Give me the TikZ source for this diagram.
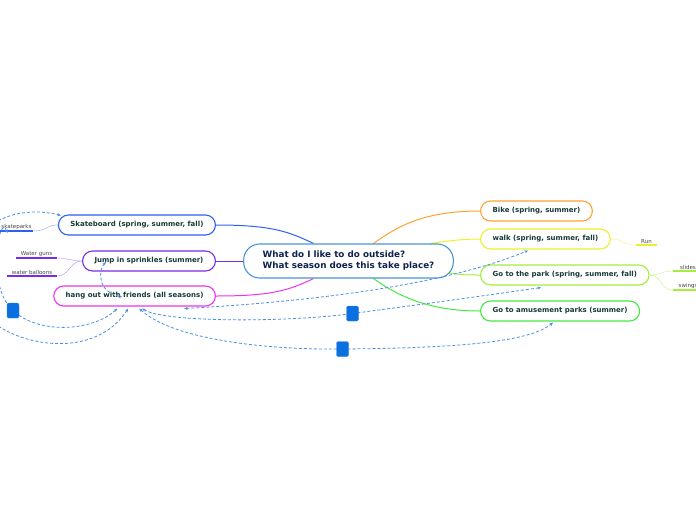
\documentclass[tikz,border=0pt]{standalone}
\usepackage{fontspec}
\setmainfont{DejaVu Sans}
\usetikzlibrary{arrows.meta,calc}
\pgfdeclarelayer{bg}
\pgfdeclarelayer{top}
\pgfsetlayers{bg,main,top}
\definecolor{skatec}{HTML}{2F5FF5}
\definecolor{skatel}{HTML}{8C9EF8}
\definecolor{jumpc}{HTML}{7A2BEA}
\definecolor{jumpl}{HTML}{B48CF2}
\definecolor{hangc}{HTML}{EE33EE}
\definecolor{bikec}{HTML}{FFA233}
\definecolor{walkc}{HTML}{EEEE30}
\definecolor{walkl}{HTML}{F2F27A}
\definecolor{parkc}{HTML}{A4EE3C}
\definecolor{parkl}{HTML}{C2F28A}
\definecolor{amusec}{HTML}{44E844}
\definecolor{centrec}{HTML}{4A94D6}
\definecolor{relblue}{HTML}{4A90E2}
\definecolor{relboxc}{HTML}{0A70E0}
\definecolor{topictext}{HTML}{173A38}
\definecolor{centretext}{HTML}{0F2250}
\definecolor{leaftext}{HTML}{444444}
\tikzset{
  topic/.style={draw, fill=white, rounded corners=10pt, line width=1.1pt,
    minimum height=20pt, inner xsep=12pt, inner ysep=0pt, text=topictext,
    font=\bfseries\fontsize{7}{8.5}\selectfont},
  leaf/.style={inner xsep=0pt, inner ysep=1.5pt, anchor=south, text=leaftext,
    font=\fontsize{5.5}{6}\selectfont},
  branch/.style={line width=1pt},
  rel/.style={draw=relblue, line width=0.8pt, dash pattern=on 3pt off 2pt},
  relarr/.style={rel, {Stealth[length=3.5pt,width=3pt]}-{Stealth[length=3.5pt,width=3pt]}},
  relbox/.style={fill=relboxc, draw=relboxc!85!white, rounded corners=1.5pt,
    minimum width=12pt, minimum height=15pt, inner sep=0pt},
}
\newcommand{\myLeaf}[5]{
\node[leaf, minimum width=#3] (#1) at (#2) {#5};
\draw[#4, line width=1.6pt] (#1.south west) -- (#1.south east);
}

\begin{document}
\begin{tikzpicture}[x=1pt,y=-1pt]
	\useasboundingbox (0,0) rectangle (696,520);
	\clip (0,0) rectangle (696,520);
	% central topic
	\node[draw=centrec, fill=white, line width=1.1pt, rounded corners=16pt,
	  minimum height=34pt, inner xsep=19pt, align=left, text=centretext,
	  font=\bfseries\fontsize{8.8}{11}\selectfont] (q) at (348.5,261)
	  {What do I like to do outside?\\What season does this take place?};
	% topics on the left
	\node[topic, draw=skatec, anchor=east] (skate) at (216,225) {Skateboard (spring, summer, fall)};
	\node[topic, draw=jumpc, anchor=east] (jump) at (216,261) {Jump in sprinkles (summer)};
	\node[topic, draw=hangc, anchor=east] (hang) at (216,296) {hang out with friends (all seasons)};
	% topics on the right
	\node[topic, draw=bikec, anchor=west] (bike) at (480,211) {Bike (spring, summer)};
	\node[topic, draw=walkc, anchor=west] (walk) at (480,239) {walk (spring, summer, fall)};
	\node[topic, draw=parkc, anchor=west] (park) at (480,275) {Go to the park (spring, summer, fall)};
	\node[topic, draw=amusec, anchor=west] (amuse) at (480,311) {Go to amusement parks (summer)};
	% branches
	\begin{pgfonlayer}{bg}
	\draw[branch, skatec] ([xshift=-35]q.north) .. controls +(-25,-12) and +(55,0) .. (skate.east);
	\draw[branch, jumpc] (q.west) -- (jump.east);
	\draw[branch, hangc] ([xshift=-35]q.south) .. controls +(-25,12) and +(55,0) .. (hang.east);
	\draw[branch, bikec] ([xshift=25]q.north) .. controls +(25,-18) and +(-55,0) .. (bike.west);
	\draw[branch, walkc] ([xshift=82]q.north) .. controls +(20,-3) and +(-15,0) .. (walk.west);
	\draw[branch, parkc] ($(q.east)+(-5,12)$) .. controls +(12,2) and +(-12,0) .. (park.west);
	\draw[branch, amusec] ([xshift=25]q.south) .. controls +(25,18) and +(-50,0) .. (amuse.west);
	\end{pgfonlayer}
	% leaves
	\myLeaf{sk}{16.5,231}{33pt}{skatec}{skateparks}
	\myLeaf{wg}{36.5,258}{41pt}{jumpc}{Water guns}
	\myLeaf{wb}{32,276}{50pt}{jumpc}{water balloons}
	\myLeaf{run}{646.5,245}{21pt}{walkc}{Run}
	\myLeaf{sl}{688,271}{30pt}{parkc}{slides}
	\myLeaf{sw}{688,290}{30pt}{parkc}{swings}
	\begin{pgfonlayer}{bg}
	\draw[skatel] (sk.south east) .. controls +(14,0) and +(-12,0) .. (skate.west);
	\draw[jumpl] (wg.south east) .. controls +(12,0) and +(-12,0) .. (jump.west);
	\draw[jumpl] (wb.south east) .. controls +(12,0) and +(-12,0) .. (jump.west);
	\draw[walkl] (walk.east) .. controls +(12,0) and +(-12,0) .. (run.south west);
	\draw[parkl] (park.east) .. controls +(12,0) and +(-12,0) .. (sl.south west);
	\draw[parkl] (park.east) .. controls +(12,0) and +(-12,0) .. (sw.south west);
	\end{pgfonlayer}
	% relationship boxes
	\begin{pgfonlayer}{top}
	\node[relbox] (sqB) at (352.5,313.5) {};
	\node[relbox] (sqC) at (342.5,349) {};
	\node[relbox] (sqE) at (13,310.5) {};
	\end{pgfonlayer}
	\coordinate (bendD) at (-30,290);
	% relationships
	\draw[relarr] ([shift={(131,2)}]hang.south west) .. controls +(145,-8) and +(-78,32) .. ([shift={(48,1)}]walk.south west);
	\draw[rel, {Stealth[length=3.5pt,width=3pt]}-] ([shift={(89,2)}]hang.south west) .. controls +(22,14) and +(-66,9) .. (sqB.center);
	\draw[rel, -{Stealth[length=3.5pt,width=3pt]}] (sqB.center) .. controls +(90,-12) .. ([shift={(61,2)}]park.south west);
	\draw[rel, {Stealth[length=3.5pt,width=3pt]}-] ([shift={(86,2)}]hang.south west) .. controls +(35,32) and +(-72,1) .. (sqC.center);
	\draw[rel, -{Stealth[length=3.5pt,width=3pt]}] (sqC.center) .. controls +(120,-1) and +(-23,19) .. ([shift={(73,1)}]amuse.south west);
	\draw[rel, {Stealth[length=3.5pt,width=3pt]}-] ([shift={(64,2)}]hang.south west) .. controls +(-23,22) and +(27,25) .. (sqE.center);
	\draw[rel, -{Stealth[length=3.5pt,width=3pt]}] (sqE.center) .. controls +(-28,-25) and +(-8,-22) .. ([shift={(-9,2)}]sk.south);
	\draw[rel, {Stealth[length=3.5pt,width=3pt]}-] ([shift={(75,2)}]hang.south west) .. controls +(-40,62) and +(10,50) .. (bendD);
	\draw[rel, -{Stealth[length=3.5pt,width=3pt]}] (bendD) .. controls +(-10,-70) and +(-42,-11) .. ([shift={(3,1)}]skate.north west);
	\draw[relarr] ([shift={(24,1)}]jump.west) .. controls +(-8,8) and +(-25,-5) .. ([shift={(69,1)}]hang.west);
\end{tikzpicture}
\end{document}
